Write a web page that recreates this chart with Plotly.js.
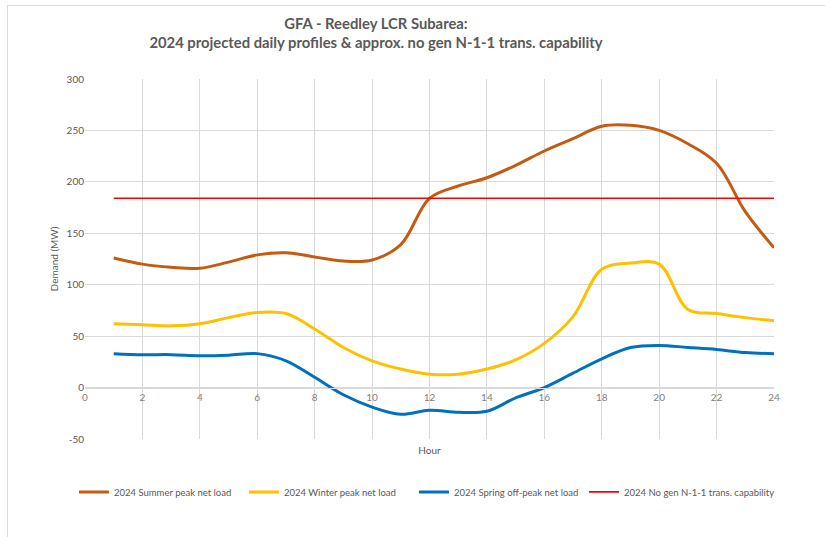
<!DOCTYPE html>
<html>
<head>
<meta charset="utf-8">
<script src="https://cdn.plot.ly/plotly-3.0.1.min.js"></script>
<style>
  html, body { margin: 0; padding: 0; background: #ffffff; }
  #chart { width: 825px; height: 537px; position: absolute; left: 0; top: 0; }
  #frame { position: absolute; left: 7px; top: 5px; width: 830px; height: 540px;
           border-left: 1.5px solid #d9d9d9; border-top: 1.5px solid #d9d9d9;
           pointer-events: none; z-index: 5; }
</style>
</head>
<body>
<div id="chart"></div>
<div id="frame"></div>
<script>
const hours = [1,2,3,4,5,6,7,8,9,10,11,12,13,14,15,16,17,18,19,20,21,22,23,24];
const summerPeak = [126,120,117,116,122,129,131,127,123,124,139,184,196,204,216,230,242,254,255,250,237,218,171,136];
const winterPeak = [62,61,60,62,68,73,72,57,39,26,18,13,13,18,27,43,69,115,121,120,76,72,68,65];
const springOffPeak = [33,32,32,31,31.5,33,26,10,-7,-19,-26,-22,-24,-23,-10,0,14,28,39,41,39,37,34,33];
const capability = [184,184,184,184,184,184,184,184,184,184,184,184,184,184,184,184,184,184,184,184,184,184,184,184];
const seriesNames = ["2024 Summer peak net load","2024 Winter peak net load","2024 Spring off-peak net load","2024 No gen N-1-1 trans. capability"];
const xTicks = [0,2,4,6,8,10,12,14,16,18,20,22,24];
const yTicks = [-50,0,50,100,150,200,250,300];

const FONT = 'Lato, "Liberation Sans", sans-serif';
const GRID = '#d9d9d9';
const TXT = '#595959';

const traces = [
  {x: hours, y: summerPeak, name: seriesNames[0], mode: 'lines', legend: 'legend',
   line: {color: '#c55a11', width: 3, shape: 'spline', smoothing: 1}},
  {x: hours, y: winterPeak, name: seriesNames[1], mode: 'lines', legend: 'legend',
   line: {color: '#ffc000', width: 3, shape: 'spline', smoothing: 1}},
  {x: hours, y: springOffPeak, name: seriesNames[2], mode: 'lines', legend: 'legend',
   line: {color: '#0070c0', width: 3, shape: 'spline', smoothing: 1}},
  {x: hours, y: capability, name: seriesNames[3], mode: 'lines', legend: 'legend2',
   line: {color: '#ff0000', width: 1.6}}
];

const legendFont = {size: 9.5, color: TXT, family: FONT};

const layout = {
  width: 825, height: 537,
  margin: {l: 85, r: 51, t: 79, b: 98},
  paper_bgcolor: '#ffffff', plot_bgcolor: '#ffffff',
  font: {family: FONT, color: TXT, size: 10},
  title: {
    text: '<b>GFA - Reedley LCR Subarea:</b><br><b>2024 projected daily profiles &amp; approx. no gen N-1-1 trans. capability</b>',
    font: {family: FONT, size: 14.8, color: TXT},
    x: 376/825, xanchor: 'center', xref: 'container',
    y: 1 - 29/537, yanchor: 'top', yref: 'container'
  },
  xaxis: {
    range: [0, 24], tickvals: xTicks, ticktext: xTicks.map(String),
    showgrid: true, gridcolor: GRID, gridwidth: 1, zeroline: false,
    showline: true, linecolor: GRID, linewidth: 1,
    anchor: 'free', position: 50/350,
    ticks: '', tickfont: {size: 10, color: '#7f7f7f', family: FONT},
    title: {text: 'Hour', font: {size: 10, color: TXT, family: FONT}, standoff: 45},
    fixedrange: true
  },
  yaxis: {
    range: [-50, 300], tickvals: yTicks, ticktext: yTicks.map(String),
    showgrid: true, gridcolor: GRID, gridwidth: 1, zeroline: false,
    showline: false, ticks: '',
    tickfont: {size: 10, color: TXT, family: FONT},
    title: {text: 'Demand (MW)', font: {size: 10, color: TXT, family: FONT}, standoff: 6},
    fixedrange: true
  },
  showlegend: true,
  legend: {
    orientation: 'h', x: -0.016, xanchor: 'left', y: -0.147, yanchor: 'middle',
    font: legendFont,
    entrywidth: 125, entrywidthmode: 'pixels', itemwidth: 30,
    bgcolor: 'rgba(0,0,0,0)', traceorder: 'normal'
  },
  legend2: {
    orientation: 'h', x: (584 - 85) / 689, xanchor: 'left', y: -0.147, yanchor: 'middle',
    font: legendFont, itemwidth: 30,
    bgcolor: 'rgba(0,0,0,0)'
  }
};

Plotly.newPlot('chart', traces, layout, {displayModeBar: false, staticPlot: true});
</script>
</body>
</html>
